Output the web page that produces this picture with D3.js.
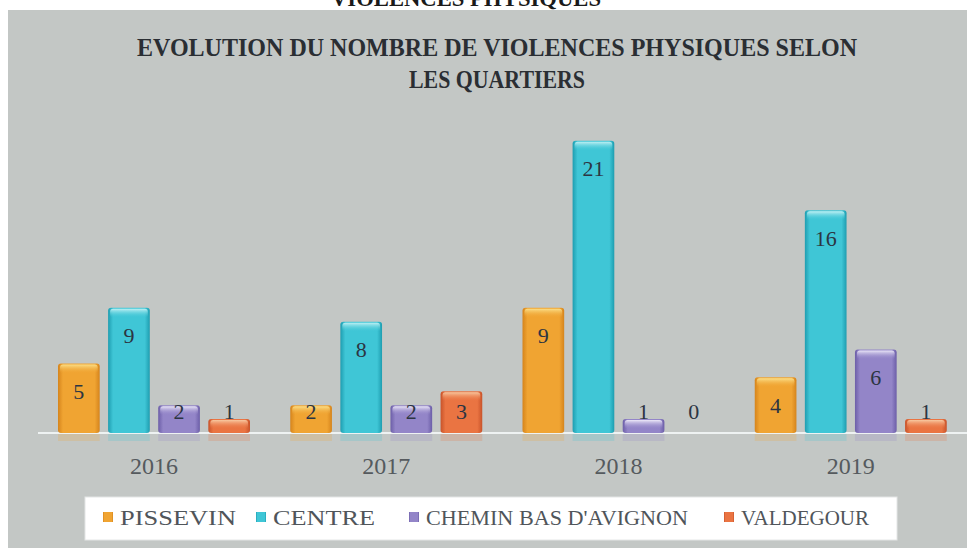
<!DOCTYPE html>
<html>
<head>
<meta charset="utf-8">
<script src="https://cdn.jsdelivr.net/npm/d3@7"></script>
<style>
  html, body { margin: 0; padding: 0; background: #ffffff; }
  svg { display: block; }
  .serif { font-family: "Liberation Serif", "DejaVu Serif", "Noto Serif", serif; }
  .serifc { font-family: "Liberation Serif", "DejaVu Serif", serif; }
</style>
</head>
<body>
<svg id="chart" width="967" height="548"></svg>
<script>
// Physical violence counts per district, by year
const years = ["2016", "2017", "2018", "2019"];
const districts = ["PISSEVIN", "CENTRE", "CHEMIN BAS D'AVIGNON", "VALDEGOUR"];
const pissevin = [5, 2, 9, 4];
const centre = [9, 8, 21, 16];
const cheminBas = [2, 2, 1, 6];
const valdegour = [1, 3, 0, 1];
const seriesValues = [pissevin, centre, cheminBas, valdegour];

// Bar colours: main face, darker edge, light top cap
const palette = [
  { main: "#f0a432", edge: "#d5841c", cap: "#fbe08a" },
  { main: "#3fc6d6", edge: "#1e9db0", cap: "#c2f1f4" },
  { main: "#9385c8", edge: "#6c5ea8", cap: "#ece8f8" },
  { main: "#ea7442", edge: "#c8532a", cap: "#f8c8a0" }
];

const svg = d3.select("#chart");
const W = 967, H = 548;

// page and chart area
svg.append("rect").attr("width", W).attr("height", H).attr("fill", "#ffffff");
svg.append("text")
  .attr("class", "serifc")
  .attr("x", 466).attr("y", 6)
  .attr("text-anchor", "middle")
  .attr("font-weight", "bold")
  .attr("font-size", 24)
  .attr("fill", "#1a1a1a")
  .attr("textLength", 270).attr("lengthAdjust", "spacingAndGlyphs")
  .text("VIOLENCES PHYSIQUES");
svg.append("rect").attr("x", 8).attr("y", 10).attr("width", W - 8).attr("height", H - 10)
  .attr("fill", "#c3c7c5");

// title
const title = svg.append("g")
  .attr("class", "serifc")
  .attr("font-weight", "bold")
  .attr("font-size", 26)
  .attr("fill", "#2a2e33")
  .attr("text-anchor", "middle");
title.append("text").attr("x", 497).attr("y", 56)
  .attr("textLength", 720).attr("lengthAdjust", "spacingAndGlyphs")
  .text("EVOLUTION DU NOMBRE DE VIOLENCES PHYSIQUES SELON");
title.append("text").attr("x", 497).attr("y", 88)
  .attr("textLength", 176).attr("lengthAdjust", "spacingAndGlyphs")
  .text("LES QUARTIERS");

// scales
const x0 = d3.scaleBand().domain(years).range([38, 38 + 4 * 232.25]).padding(0);
const x1 = d3.scaleBand().domain(districts).range([20, 212]).paddingInner(0.168).paddingOuter(0);
const y = d3.scaleLinear().domain([0, 25]).range([433, 85]);

// gradients
const defs = svg.append("defs");
palette.forEach((c, i) => {
  const g = defs.append("linearGradient").attr("id", "face" + i)
    .attr("x1", "0").attr("x2", "1").attr("y1", "0").attr("y2", "0");
  [[0, c.edge], [0.12, c.main], [0.5, c.main], [0.88, c.main], [1, c.edge]].forEach(([o, col]) =>
    g.append("stop").attr("offset", o).attr("stop-color", col));
  const t = defs.append("linearGradient").attr("id", "cap" + i)
    .attr("x1", "0").attr("x2", "0").attr("y1", "0").attr("y2", "1");
  t.append("stop").attr("offset", 0).attr("stop-color", c.cap).attr("stop-opacity", 1);
  t.append("stop").attr("offset", 1).attr("stop-color", c.main).attr("stop-opacity", 0);
});

const rows = [];
years.forEach((yr, yi) => districts.forEach((d, si) =>
  rows.push({ year: yr, district: d, si, value: seriesValues[si][yi] })));

const baseY = y(0);

// faint reflection under the axis
svg.append("g").selectAll("rect").data(rows.filter(r => r.value > 0)).join("rect")
  .attr("x", r => x0(r.year) + x1(r.district))
  .attr("y", baseY + 1)
  .attr("width", x1.bandwidth())
  .attr("height", 7)
  .attr("fill", r => palette[r.si].main)
  .attr("opacity", 0.22);

// axis line
svg.append("line").attr("x1", 38).attr("x2", W).attr("y1", baseY).attr("y2", baseY)
  .attr("stroke", "#eef2f2").attr("stroke-width", 2);

// bars
const bars = svg.append("g").selectAll("g").data(rows.filter(r => r.value > 0)).join("g");
bars.append("rect")
  .attr("x", r => x0(r.year) + x1(r.district))
  .attr("y", r => y(r.value))
  .attr("width", x1.bandwidth())
  .attr("height", r => baseY - y(r.value))
  .attr("rx", 3)
  .attr("fill", r => `url(#face${r.si})`);
bars.append("rect")
  .attr("x", r => x0(r.year) + x1(r.district) + 2)
  .attr("y", r => y(r.value) + 1)
  .attr("width", x1.bandwidth() - 4)
  .attr("height", r => Math.min(9, baseY - y(r.value) - 1))
  .attr("rx", 3)
  .attr("fill", r => `url(#cap${r.si})`);

// value labels
svg.append("g").selectAll("text").data(rows).join("text")
  .attr("class", "serif")
  .attr("x", r => x0(r.year) + x1(r.district) + x1.bandwidth() / 2)
  .attr("y", r => Math.min(y(r.value) + 28, baseY - 22))
  .attr("dy", "0.35em")
  .attr("text-anchor", "middle")
  .attr("font-size", 22)
  .attr("fill", "#2c3542")
  .text(r => r.value);

// year labels
svg.append("g").selectAll("text").data(years).join("text")
  .attr("class", "serif")
  .attr("x", d => x0(d) + 116)
  .attr("y", 466)
  .attr("dy", "0.35em")
  .attr("text-anchor", "middle")
  .attr("font-size", 24)
  .attr("fill", "#555a5e")
  .text(d => d);

// legend
svg.append("rect").attr("x", 85).attr("y", 497).attr("width", 812).attr("height", 43)
  .attr("fill", "#ffffff").attr("stroke", "#e4e6e6");
const legendPos = [
  { tx: 120, w: 116 },
  { tx: 273, w: 102 },
  { tx: 426, w: 262 },
  { tx: 741, w: 128 }
];
const leg = svg.append("g").selectAll("g").data(districts).join("g");
leg.append("rect")
  .attr("x", (d, i) => legendPos[i].tx - 17)
  .attr("y", 512)
  .attr("width", 10).attr("height", 10)
  .attr("fill", (d, i) => `url(#face${i})`);
leg.append("text")
  .attr("class", "serif")
  .attr("x", (d, i) => legendPos[i].tx)
  .attr("y", 518)
  .attr("dy", "0.35em")
  .attr("font-size", 21)
  .attr("fill", "#50555a")
  .attr("textLength", (d, i) => legendPos[i].w)
  .attr("lengthAdjust", "spacingAndGlyphs")
  .text(d => d);
</script>
</body>
</html>
